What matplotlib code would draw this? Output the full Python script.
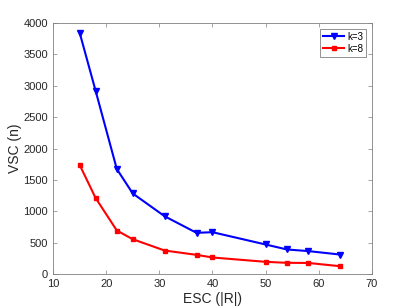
import matplotlib
matplotlib.use("Agg")
from matplotlib import pyplot as plt

plt.rcParams["font.family"] = ["Liberation Sans", "DejaVu Sans"]

esc = [15, 18, 22, 25, 31, 37, 40, 50, 54, 58, 64]
vsc_k3 = [3850, 2925, 1675, 1285, 922, 658, 668, 472, 393, 367, 312]
vsc_k8 = [1742, 1215, 695, 556, 376, 307, 265, 196, 180, 178, 126]

fig = plt.figure(figsize=(4.11, 3.08), dpi=100)
ax = fig.add_axes([0.129, 0.110, 0.776, 0.815])

ax.plot(esc, vsc_k3, color="#0000ff", lw=1.5, marker="v", ms=5, label="k=3")
ax.plot(esc, vsc_k8, color="#ff0000", lw=1.5, marker="s", ms=3, label="k=8")

ax.set_xlim(10, 70)
ax.set_ylim(0, 4000)
ax.set_xticks(range(10, 71, 10))
ax.set_yticks(range(0, 4001, 500))
ax.set_xlabel("ESC (|R|)", fontsize=10, color="#262626", labelpad=2)
ax.set_ylabel("VSC (n)", fontsize=10, color="#262626", labelpad=1)

for s in ax.spines.values():
    s.set_color("#808080")
    s.set_linewidth(0.6)
ax.tick_params(direction="in", length=3, width=0.5, color="#808080",
               labelsize=8, labelcolor="#262626", top=True, right=True)

leg = ax.legend(loc="upper right", fontsize=7, handlelength=2.2,
                fancybox=False, framealpha=1, borderpad=0.3,
                labelspacing=0.2, handletextpad=0.3, borderaxespad=0.6)
leg.get_frame().set_edgecolor("#808080")
leg.get_frame().set_linewidth(0.6)

fig.savefig("out.png", dpi=100)
